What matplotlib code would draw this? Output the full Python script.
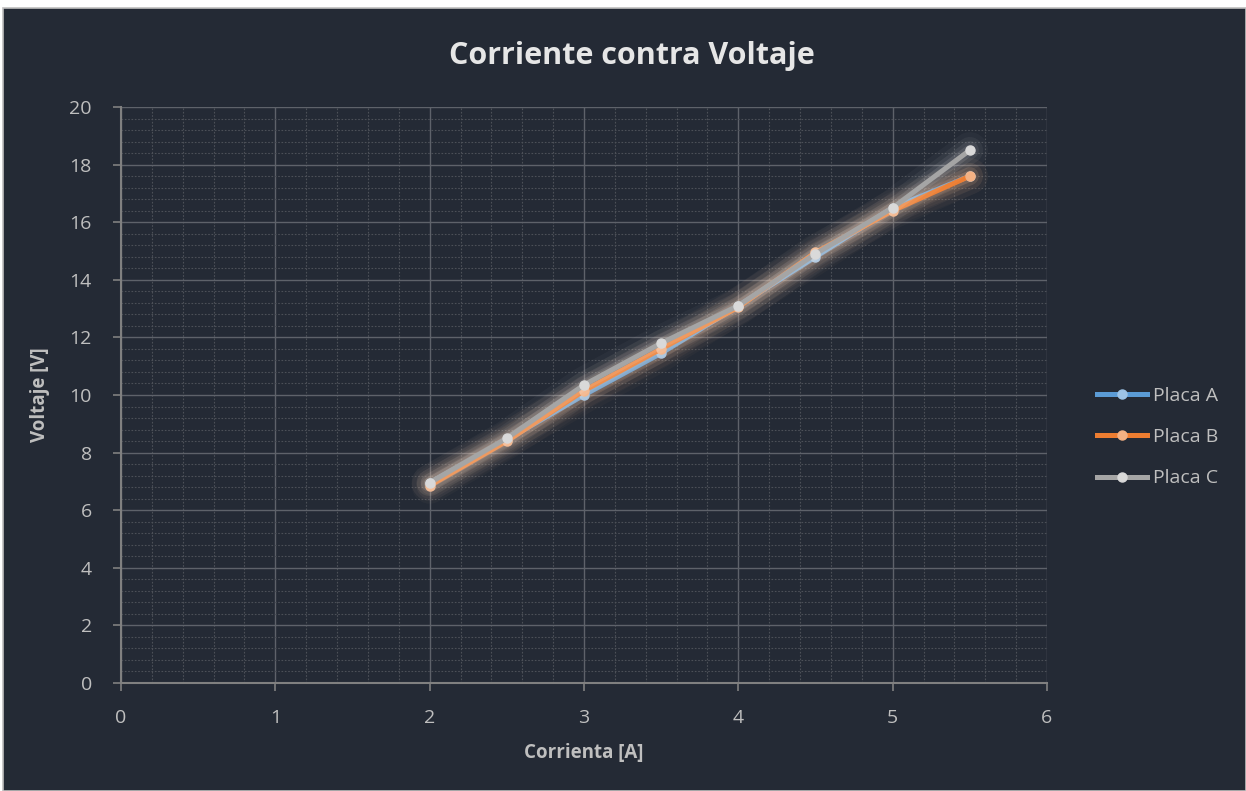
import matplotlib
matplotlib.use("Agg")
import matplotlib.pyplot as plt
from matplotlib.patches import Rectangle
from matplotlib.ticker import MultipleLocator

plt.rcParams['font.family'] = ['Open Sans', 'DejaVu Sans']

# Corriente [A] and measured voltage [V] for each plate
corriente = [2.0, 2.5, 3.0, 3.5, 4.0, 4.5, 5.0, 5.5]
placa_a = [6.95, 8.45, 10.0, 11.45, 13.1, 14.8, 16.5, 17.6]
placa_b = [6.85, 8.4, 10.15, 11.6, 13.05, 14.95, 16.4, 17.6]
placa_c = [6.95, 8.5, 10.35, 11.8, 13.1, 14.9, 16.5, 18.5]

series_names = ['Placa A', 'Placa B', 'Placa C']
line_colors = ['#5b9bd5', '#ed7d31', '#a5a5a5']
marker_colors = ['#9dc3e6', '#f4b183', '#d9d9d9']
glow_colors = ['#f4b183', '#f8cba8', '#ffffff']

x_ticks = [0, 1, 2, 3, 4, 5, 6]
y_ticks = [0, 2, 4, 6, 8, 10, 12, 14, 16, 18, 20]

bg = '#242a35'
text_col = '#bfbfbf'

fig = plt.figure(figsize=(12.46, 7.91), dpi=100, facecolor='white')
# dark chart panel with thin border
fig.patches.append(Rectangle((3 / 1246, 0), 1 - 3 / 1246, 1 - 8 / 791,
                             transform=fig.transFigure, facecolor=bg,
                             edgecolor='#bfbfbf', linewidth=1.2, zorder=-10))

ax = fig.add_axes([121 / 1246, 1 - 683 / 791, (1047 - 121) / 1246, (683 - 107) / 791])
ax.set_facecolor(bg)
ax.set_xlim(0, 6)
ax.set_ylim(0, 20)
ax.set_xticks(x_ticks)
ax.set_yticks(y_ticks)
ax.xaxis.set_minor_locator(MultipleLocator(0.2))
ax.yaxis.set_minor_locator(MultipleLocator(0.4))

ax.grid(which='major', color='#5e626a', linewidth=1.0, zorder=0)
ax.grid(which='minor', color='#4c5058', linewidth=0.8, linestyle=(0, (1.5, 1.5)), zorder=0)
ax.set_axisbelow(True)

for side in ['top', 'right']:
    ax.spines[side].set_visible(False)
for side in ['left', 'bottom']:
    ax.spines[side].set_color('#808080')
    ax.spines[side].set_linewidth(1.5)

ax.tick_params(which='major', direction='out', length=6, width=1.2, color='#808080',
               labelcolor=text_col, labelsize=14, pad=13)
ax.tick_params(which='minor', length=0)
ax.tick_params(axis='y', pad=15)

all_series = [placa_a, placa_b, placa_c]
for i, (vals, name) in enumerate(zip(all_series, series_names)):
    # soft glow underneath each line
    for w, a in [(26, 0.03), (19, 0.05), (13, 0.07), (8, 0.1)]:
        ax.plot(corriente, vals, color=glow_colors[i], linewidth=w, alpha=a,
                solid_capstyle='round', solid_joinstyle='round', zorder=2 + i)
    ax.plot(corriente, vals, color=line_colors[i], linewidth=3.6,
            marker='o', markersize=6.5, markerfacecolor=marker_colors[i],
            markeredgecolor=marker_colors[i], solid_joinstyle='round',
            label=name, zorder=3 + i)

fig.text(0.507, 1 - 56 / 791, 'Corriente contra Voltaje', color='#e6e6e6',
         fontsize=22, fontweight='bold', ha='center', va='center')
ax.set_xlabel('Corrienta [A]', color=text_col, fontsize=13.5, fontweight='bold', labelpad=11)
ax.set_ylabel('Voltaje [V]', color=text_col, fontsize=13.5, fontweight='bold', labelpad=14)

leg = ax.legend(loc='center left', bbox_to_anchor=(1.035, 0.427), frameon=False,
                fontsize=14, labelcolor=text_col, handlelength=2.6,
                handletextpad=0.3, labelspacing=1.2)

fig.savefig('out.png', dpi=100, facecolor='white')
